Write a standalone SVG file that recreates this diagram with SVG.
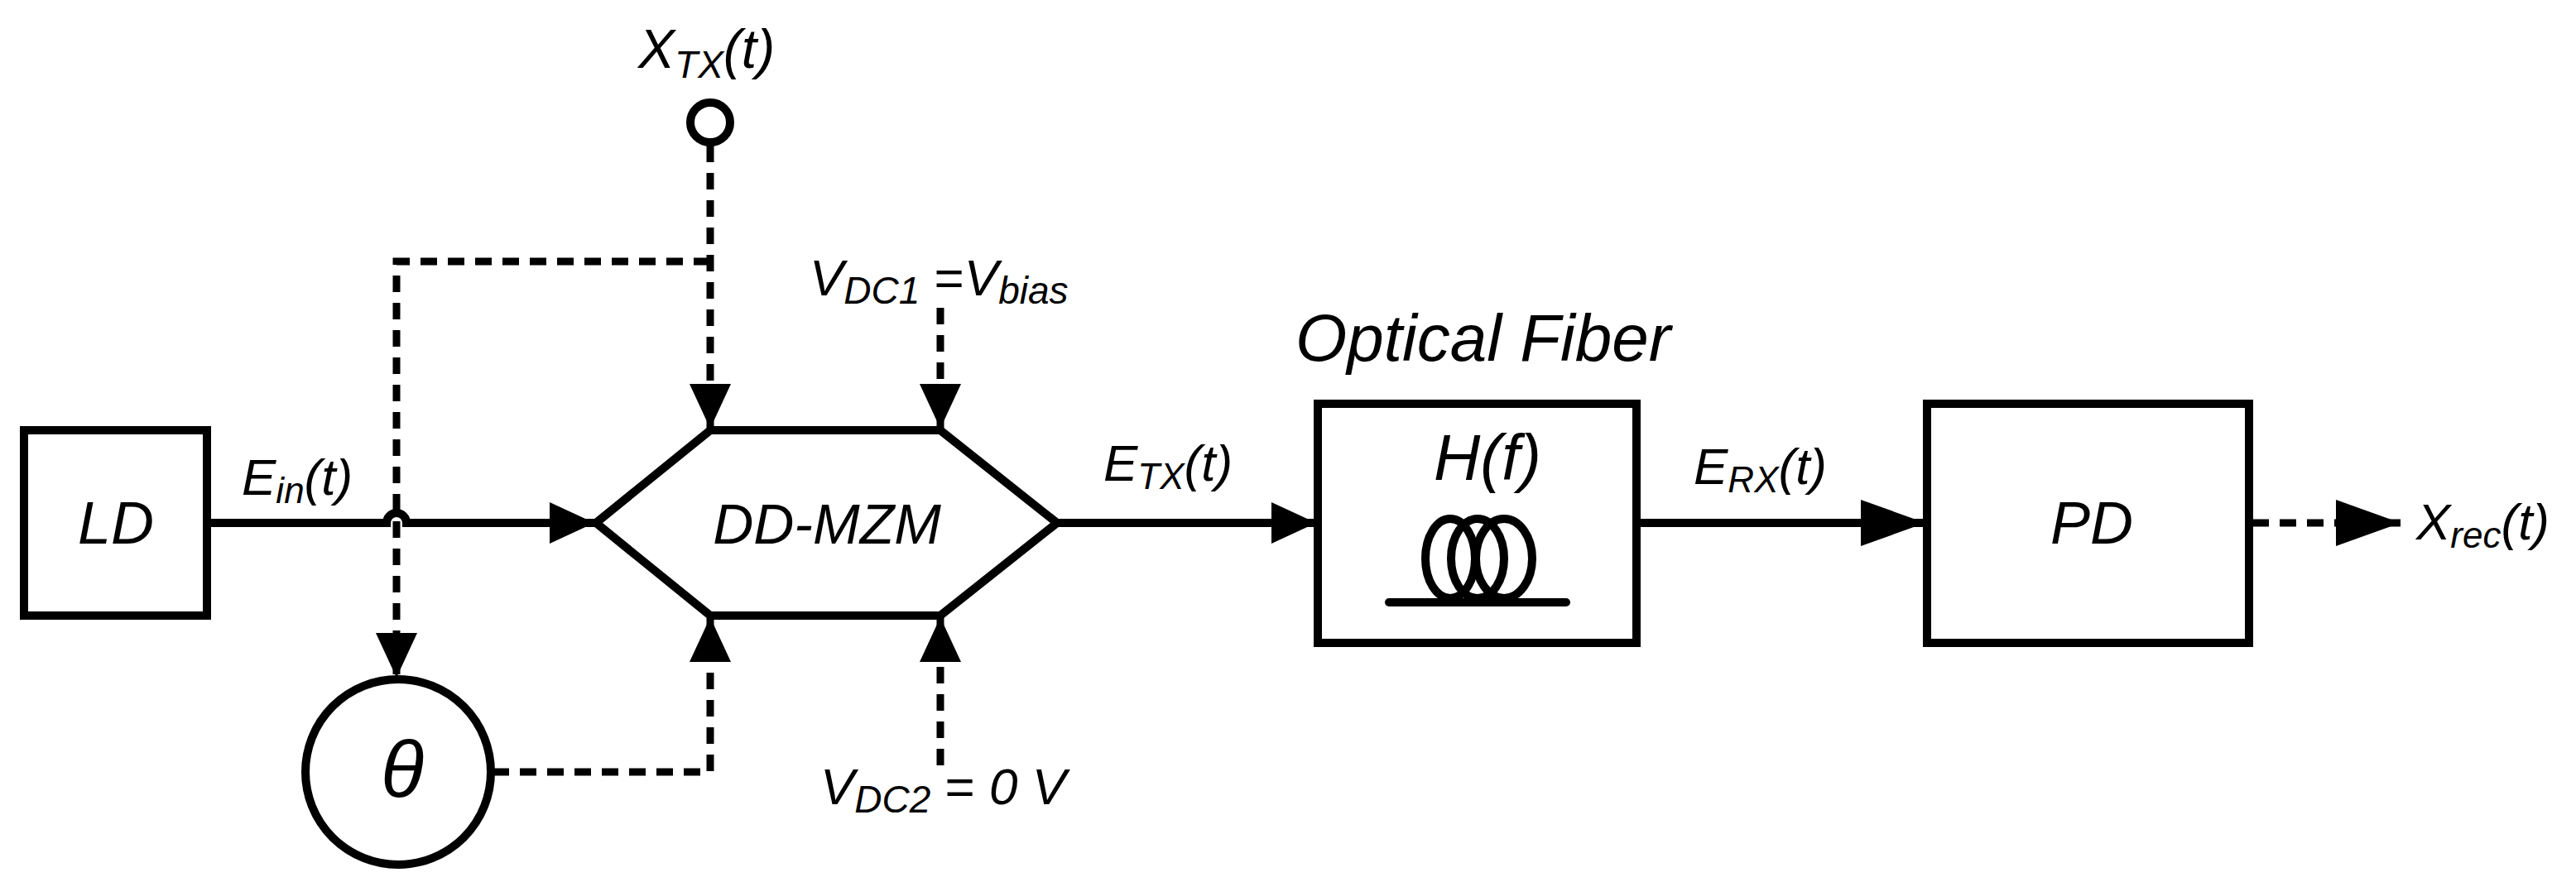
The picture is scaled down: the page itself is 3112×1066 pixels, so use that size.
<svg xmlns="http://www.w3.org/2000/svg" width="3112" height="1066" viewBox="0 0 3112 1066">
<style>
.s{fill:none;stroke:#000;stroke-width:10}
.d{fill:none;stroke:#000;stroke-width:9;stroke-dasharray:20 13}
.t{font-family:"Liberation Sans",Arial,sans-serif;font-style:italic;fill:#000}
</style>
<defs>
<marker id="a" markerUnits="userSpaceOnUse" markerWidth="60" markerHeight="60" refX="54" refY="25" orient="auto"><path d="M0,0 L54,25 L0,50 Z"/></marker>
<marker id="b" markerUnits="userSpaceOnUse" markerWidth="90" markerHeight="70" refX="78" refY="28" orient="auto"><path d="M0,0 L78,28 L0,56 Z"/></marker>
</defs>
<rect width="3112" height="1066" fill="#fff"/>
<g id="connectors">
<path class="s" d="M250,632 H467 A12,12 0 0 1 491,632 H718" marker-end="url(#a)"/>
<path class="s" d="M1277,632 H1590" marker-end="url(#a)"/>
<path class="s" d="M1977,632 H2326" marker-end="url(#b)"/>
<path class="d" d="M2721,632 H2900" marker-end="url(#b)"/>
<path class="d" d="M858,176 V518" marker-end="url(#a)"/>
<path class="d" d="M858,316 H479 V819" marker-end="url(#a)"/>
<path class="d" d="M595,933 H858 V746" marker-end="url(#a)"/>
<path class="d" d="M1136,372 V518" marker-end="url(#a)"/>
<path class="d" d="M1136,925 V746" marker-end="url(#a)"/>
</g>
<g id="LD"><rect class="s" x="29" y="520" width="221" height="224"/><text class="t" x="140" y="657" font-size="72" text-anchor="middle">LD</text></g>
<g id="MZM"><path class="s" d="M720,632 L858,520 H1136 L1277,632 L1136,744 H858 Z"/><text class="t" x="999" y="657" font-size="68" text-anchor="middle">DD-MZM</text></g>
<g id="XTX"><circle class="s" cx="858" cy="148" r="24"/><text class="t" x="771" y="82" font-size="66">X<tspan font-size="46" dy="12">TX</tspan><tspan dy="-12">(t)</tspan></text></g>
<g id="theta"><circle class="s" cx="481" cy="933" r="112"/><text class="t" x="486" y="963" font-size="96" text-anchor="middle">θ</text></g>
<g id="fiber"><rect class="s" x="1592" y="488" width="385" height="289"/>
<text class="t" x="1565" y="436" font-size="80">Optical Fiber</text>
<text class="t" x="1797" y="580" font-size="78" text-anchor="middle">H(f)</text>
<ellipse class="s" cx="1752" cy="675" rx="30" ry="48" stroke-width="9"/>
<ellipse class="s" cx="1785" cy="675" rx="32" ry="48" stroke-width="9"/>
<ellipse class="s" cx="1817" cy="675" rx="34" ry="48" stroke-width="9"/>
<path class="s" d="M1678,728 H1892" stroke-linecap="round"/></g>
<g id="PD"><rect class="s" x="2328" y="488" width="389" height="289"/><text class="t" x="2527" y="657" font-size="72" text-anchor="middle">PD</text></g>
<g id="labels">
<text class="t" x="292" y="598" font-size="62">E<tspan font-size="44" dy="10">in</tspan><tspan dy="-10">(t)</tspan></text>
<text class="t" x="1333" y="581" font-size="62">E<tspan font-size="44" dy="10">TX</tspan><tspan dy="-10">(t)</tspan></text>
<text class="t" x="2046" y="585" font-size="62">E<tspan font-size="44" dy="10">RX</tspan><tspan dy="-10">(t)</tspan></text>
<text class="t" x="2919" y="652" font-size="62">X<tspan font-size="44" dy="10">rec</tspan><tspan dy="-10">(t)</tspan></text>
<text class="t" x="978" y="357" font-size="62">V<tspan font-size="46" dy="10">DC1</tspan><tspan dy="-10" font-style="normal"> =</tspan>V<tspan font-size="46" dy="10">bias</tspan></text>
<text class="t" x="991" y="972" font-size="62">V<tspan font-size="46" dy="10">DC2</tspan><tspan dy="-10" font-style="normal"> = </tspan>0 V</text>
</g>
</svg>
